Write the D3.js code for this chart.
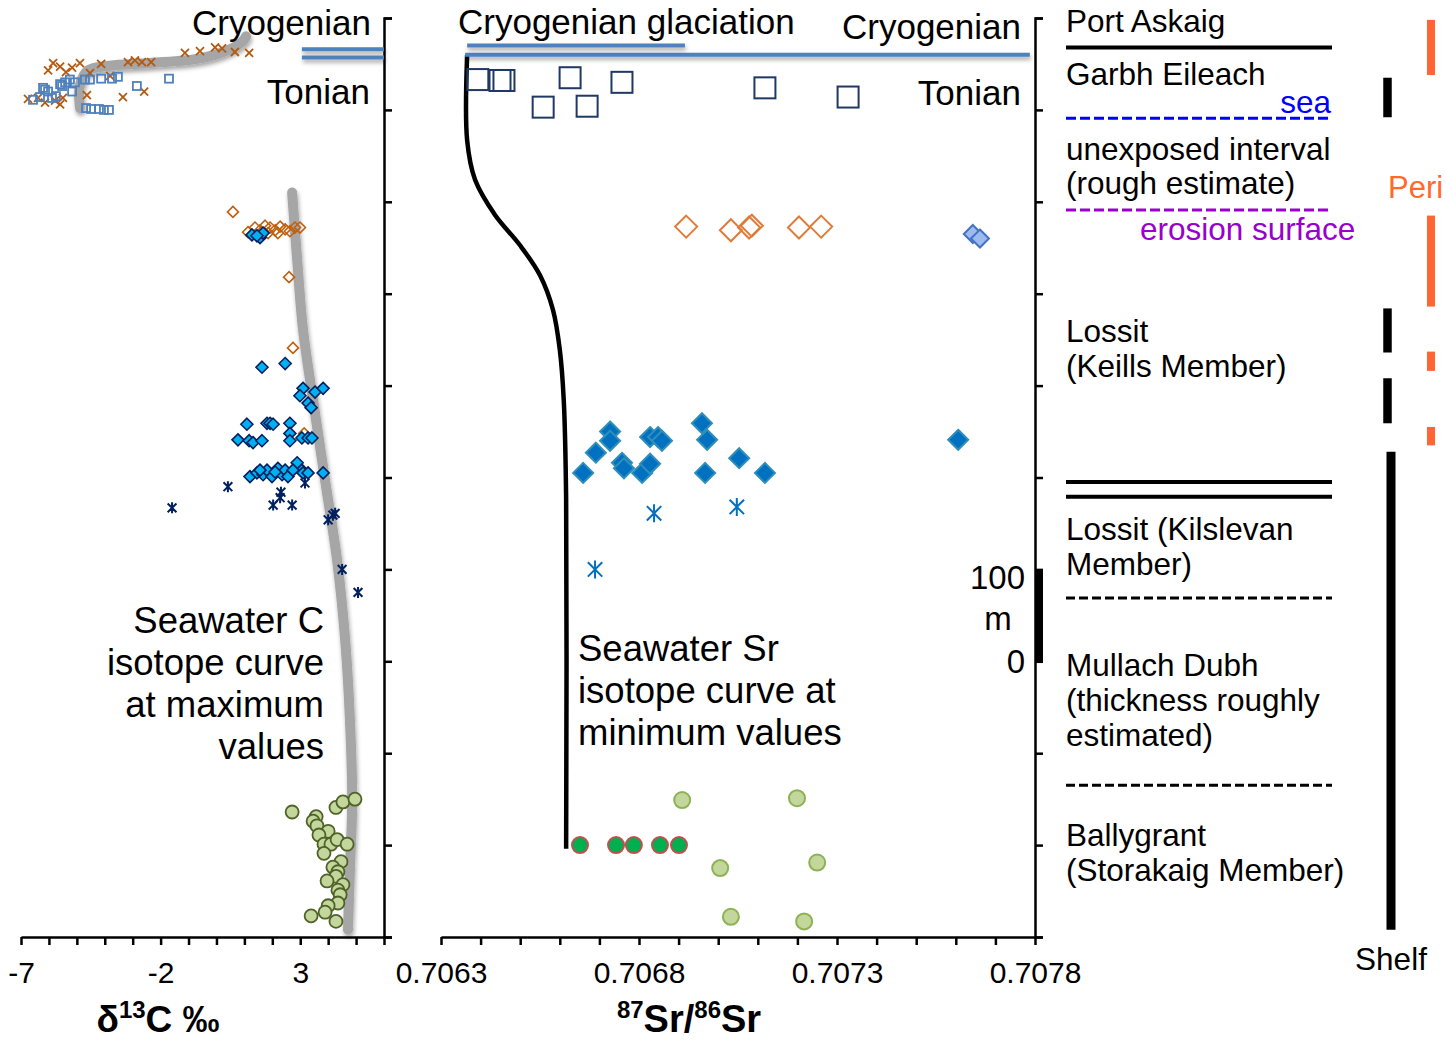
<!DOCTYPE html>
<html><head><meta charset="utf-8">
<script src="https://cdn.jsdelivr.net/npm/d3@7"></script>
<style>
html,body{margin:0;padding:0;background:#fff;overflow:hidden}
svg{display:block;font-family:"Liberation Sans",Arial,Helvetica,sans-serif}
</style></head><body>
<svg id="chart" width="1446" height="1044"></svg>
<script>
// ---------------- DATA (δ13C ‰ / 87Sr/86Sr vs stratigraphic height, m) ----------------
const c13Ticks = [-7, -2, 3];
const srTicks = [0.7063, 0.7068, 0.7073, 0.7078];

// δ13C panel series: [δ13C, height m]
const c13PortAskaig = [[-5.85,951],[-6.03,943],[-5.60,947],[-5.17,946],[-4.89,951],[-4.13,950],[-3.17,952],[-2.92,954],[-2.67,952],[-2.34,952],[-1.13,962],[-0.59,964],[-0.05,968],[0.20,967],[0.66,963],[1.17,962],[-6.75,912],[-5.78,910],[-5.50,913],[-4.64,916],[-3.35,914],[-2.59,920],[-6.14,908],[-5.60,906],[-6.39,913],[-5.39,941],[-4.53,940],[-3.81,937]];
const c13Garbh = [[-6.57,911],[-6.32,914],[-6.21,924],[-6.03,920],[-5.89,913],[-5.60,928],[-5.42,930],[-5.25,933],[-5.07,930],[-4.71,933],[-4.53,933],[-4.13,934],[-3.74,934],[-3.53,936],[-2.85,926],[-1.70,934],[-4.67,902],[-4.49,901],[-4.21,901],[-4.03,900],[-3.85,900],[-6.14,922],[-5.75,915],[-5.17,920],[-5.53,926]];
const c13KeillsOpen = [[0.59,789],[2.60,718],[2.74,641],[3.14,548],[1.13,767],[1.38,772],[1.56,769],[1.74,774],[1.92,772],[2.10,769],[2.28,773],[2.46,770],[2.63,768],[2.81,772],[2.99,772],[1.85,766],[2.20,766]];
const c13KeillsFilled = [[1.27,764],[1.56,761],[1.67,766],[1.45,763],[1.63,620],[2.46,624],[3.10,597],[2.99,589],[3.53,593],[3.82,597],[3.28,581],[3.39,576],[1.09,558],[1.81,559],[1.92,559],[2.03,558],[2.63,559],[0.77,541],[1.17,540],[1.31,538],[1.63,540],[2.63,548],[2.63,540],[3.06,543],[3.28,543],[3.42,543],[1.20,501],[1.45,505],[1.67,503],[1.81,508],[1.99,501],[2.20,510],[2.35,503],[2.46,508],[2.56,501],[2.89,516],[3.06,508],[3.10,505],[3.28,505],[3.82,505],[1.56,508],[2.74,508],[2.10,506]];
const c13Kilslevan = [[-1.59,467],[0.41,490],[2.31,484],[2.28,478],[2.03,470],[2.71,470],[3.17,494],[4.00,454],[4.17,459],[4.25,461],[4.50,400],[5.07,375]];
const c13Ballygrant = [[2.71,136],[4.28,141],[4.53,147],[4.96,150],[3.57,131],[3.46,126],[3.60,121],[4.00,115],[3.67,111],[3.85,101],[4.10,101],[4.32,106],[4.68,101],[3.85,91],[4.46,82],[4.17,76],[4.35,71],[4.28,66],[3.96,61],[4.53,57],[4.35,51],[4.43,46],[4.35,37],[4.00,34],[3.89,27],[3.39,23],[4.28,17]];

// seawater curves (annotation lines)
const seawaterCCurve = [[2.71,810],[2.89,737],[3.10,661],[3.46,584],[3.89,497],[4.32,410],[4.61,323],[4.78,236],[4.86,149],[4.78,73],[4.71,8]];
const seawaterCHook = [[-4.89,902],[-4.89,927],[-4.60,943],[-3.81,948],[-2.38,951],[-0.59,956],[0.41,965],[0.92,974],[1.06,980]];
const seawaterSrCurve = [[0.706366,960],[0.706366,867],[0.706386,824],[0.706436,786],[0.706499,753],[0.706550,720],[0.706583,682],[0.706600,639],[0.706610,584],[0.706616,476],[0.706616,96]];

// 87Sr/86Sr panel series: [ratio, height m]
const srGarbh = [[0.706393,933],[0.706449,932],[0.706459,932],[0.706558,903],[0.706626,935],[0.706669,904],[0.706757,930],[0.707118,924],[0.707328,914]];
const srKeillsOpen = [[0.706919,773],[0.707032,769],[0.707078,772],[0.707085,774],[0.707204,772],[0.707260,773]];
const srKeillsLight = [[0.707643,765],[0.707661,760]];
const srKeillsFilled = [[0.706659,505],[0.706691,527],[0.706727,550],[0.706727,540],[0.706757,516],[0.706762,510],[0.706808,505],[0.706828,515],[0.706828,544],[0.706848,544],[0.706858,540],[0.706959,559],[0.706972,541],[0.706967,505],[0.707053,521],[0.707118,505],[0.707606,541]];
const srKilslevan = [[0.706838,461],[0.707047,468],[0.706689,400]];
const srBallygrantLight = [[0.706909,149],[0.707199,151],[0.707005,75],[0.707250,81],[0.707032,22],[0.707217,17]];
const srBallygrantDark = [[0.706651,100],[0.706742,100],[0.706787,100],[0.706853,100],[0.706901,100]];

// period boundaries (blue lines): [x0, x1, height]
const c13PeriodLines = [[3.06,6,966],[3.06,6,957]];
const srPeriodLines = [[0.706361,0.707787,960]];
const srGlaciationLine = [[0.706366,0.706916,970]];

// stratigraphic column
const formationNames = ["Port Askaig","Garbh Eileach","unexposed interval","(rough estimate)","Lossit","(Keills Member)","Lossit (Kilslevan","Member)","Mullach Dubh","(thickness roughly","estimated)","Ballygrant","(Storakaig Member)"];
const boundaries = [[968,"solid"],[891,"sea"],[791,"erosion"],[495,"solid"],[479,"solid"],[369,"dash"],[165,"dash"]];
const peritidalBars = [[938,998],[686,785],[616,637],[535,555]];
const shelfBars = [[892,935],[636,684],[559,608]];
const shelfLong = [[8,528]];
const scaleBar = [[300,400]];

// ---------------- DRAWING ----------------
const svg = d3.select("#chart");
const defs = svg.append("defs");
defs.append("filter").attr("id","sh").attr("filterUnits","userSpaceOnUse")
  .attr("x",0).attr("y",0).attr("width",1446).attr("height",1044)
  .append("feDropShadow").attr("dx",1).attr("dy",3).attr("stdDeviation",2)
  .attr("flood-color","#000").attr("flood-opacity",0.35);

const yH = d3.scaleLinear().domain([0,1000]).range([937,18]);
const xC = d3.scaleLinear().domain([-7,6]).range([21,384]);
const xSr = d3.scaleLinear().domain([0.7063,0.7078]).range([441,1035]);

function text(x, y, str, size, anchor, fill, weight) {
  return svg.append("text").attr("x",x).attr("y",y).attr("font-size",size)
    .attr("text-anchor",anchor||"start").attr("fill",fill||"#000")
    .attr("font-weight",weight||"normal").text(str);
}

// axes
function styleAxis(g){
  g.selectAll("path,line").attr("stroke","#000").attr("stroke-width",2.5);
  g.selectAll("text").attr("font-size",30).attr("fill","#000").attr("font-family",'"Liberation Sans",Arial,sans-serif');
}
svg.append("g").attr("transform","translate(0,937)")
  .call(d3.axisBottom(xC).tickValues(d3.range(-7,7,1)).tickSize(8).tickSizeOuter(0).tickPadding(17)
    .tickFormat(d => c13Ticks.includes(d) ? String(d) : ""))
  .call(styleAxis);
const srMinor = d3.range(16).map(i => +(0.7063 + i*0.0001).toFixed(4));
svg.append("g").attr("transform","translate(0,937)")
  .call(d3.axisBottom(xSr).tickValues(srMinor).tickSize(8).tickSizeOuter(0).tickPadding(17)
    .tickFormat(d => srTicks.includes(d) ? d.toFixed(4) : ""))
  .call(styleAxis);
[384,1035].forEach(x => {
  svg.append("g").attr("transform",`translate(${x},0)`)
    .call(d3.axisRight(yH).tickValues(d3.range(0,1001,100)).tickSize(8).tickSizeOuter(8).tickFormat(""))
    .call(styleAxis);
});

// scale bar
svg.selectAll(".sbar").data(scaleBar).join("line")
  .attr("x1",1039).attr("x2",1039).attr("y1",d=>yH(d[0])).attr("y2",d=>yH(d[1]))
  .attr("stroke","#000").attr("stroke-width",8);

// curves
const lineC = d3.line().x(d=>xC(d[0])).y(d=>yH(d[1])).curve(d3.curveCatmullRom);
const lineSr = d3.line().x(d=>xSr(d[0])).y(d=>yH(d[1])).curve(d3.curveCatmullRom);
[seawaterCCurve, seawaterCHook].forEach(c => {
  svg.append("path").attr("d",lineC(c)).attr("fill","none").attr("stroke","#a6a6a6")
    .attr("stroke-width",10).attr("stroke-linecap","round").attr("stroke-linejoin","round").attr("filter","url(#sh)");
});
svg.append("path").attr("d",lineSr(seawaterSrCurve)).attr("fill","none").attr("stroke","#000").attr("stroke-width",4.5);

// period lines
c13PeriodLines.forEach(d => svg.append("line").attr("x1",xC(d[0])).attr("x2",xC(d[1])).attr("y1",yH(d[2])).attr("y2",yH(d[2]))
  .attr("stroke","#4f81bd").attr("stroke-width",4).attr("filter","url(#sh)"));
srPeriodLines.concat(srGlaciationLine).forEach(d => svg.append("line").attr("x1",xSr(d[0])).attr("x2",xSr(d[1])).attr("y1",yH(d[2])).attr("y2",yH(d[2]))
  .attr("stroke","#4f81bd").attr("stroke-width",4).attr("filter","url(#sh)"));

// markers
function pts(data, xs, shape, r, fill, stroke, sw){
  const g = svg.append("g");
  data.forEach(d => {
    const x = xs(d[0]), y = yH(d[1]);
    let p;
    if (shape==="circle") p = g.append("circle").attr("cx",x).attr("cy",y).attr("r",r);
    else if (shape==="square") p = g.append("rect").attr("x",x-r).attr("y",y-r).attr("width",2*r).attr("height",2*r);
    else if (shape==="diamond") p = g.append("path").attr("d",`M${x},${y-r}L${x+r},${y}L${x},${y+r}L${x-r},${y}Z`);
    else if (shape==="cross") p = g.append("path").attr("d",`M${x-r},${y-r}L${x+r},${y+r}M${x-r},${y+r}L${x+r},${y-r}`);
    else if (shape==="star") p = g.append("path").attr("d",`M${x-r*0.8},${y-r*0.8}L${x+r*0.8},${y+r*0.8}M${x-r*0.8},${y+r*0.8}L${x+r*0.8},${y-r*0.8}M${x},${y-r}L${x},${y+r}`);
    p.attr("fill",fill).attr("stroke",stroke).attr("stroke-width",sw);
  });
}
pts(c13PortAskaig, xC, "cross", 4, "none", "#b35a10", 1.8);
pts(c13Garbh, xC, "square", 4, "none", "#4f81bd", 1.8);
pts(c13KeillsOpen, xC, "diamond", 5.5, "none", "#c0600f", 1.6);
pts(c13KeillsFilled, xC, "diamond", 6, "#00b0f0", "#002060", 1.6);
pts(c13Kilslevan, xC, "star", 5.5, "none", "#002060", 2);
pts(c13Ballygrant, xC, "circle", 6.5, "#c3d69b", "#4f6228", 1.8);

pts(srGarbh, xSr, "square", 10.5, "none", "#203864", 2);
pts(srKeillsOpen, xSr, "diamond", 11, "none", "#e07b39", 2);
pts(srKeillsLight, xSr, "diamond", 9, "#9dbbee", "#4472c4", 2);
pts(srKeillsFilled, xSr, "diamond", 10, "#0070c0", "#2f8fb8", 2);
pts(srKilslevan, xSr, "star", 9, "none", "#0070c0", 2);
pts(srBallygrantLight, xSr, "circle", 8, "#c3d69b", "#8db255", 2);
pts(srBallygrantDark, xSr, "circle", 8, "#00b050", "#c0504d", 2);

// panel texts
text(371,35,"Cryogenian",35,"end");
text(370,104,"Tonian",35,"end");
text(458,34,"Cryogenian glaciation",35,"start");
text(1021,39,"Cryogenian",35,"end");
text(1021,105,"Tonian",35,"end");
["Seawater C","isotope curve","at maximum","values"].forEach((s,i)=>text(324,633+i*42,s,36.5,"end"));
["Seawater Sr","isotope curve at","minimum values"].forEach((s,i)=>text(578,661+i*42,s,36.5,"start"));
text(1025,589,"100",33,"end");
text(998,630,"m",33,"middle");
text(1025,673,"0",33,"end");

// axis titles
const t1 = svg.append("text").attr("x",158).attr("y",1032).attr("text-anchor","middle").attr("font-size",37).attr("font-weight","bold");
t1.append("tspan").text("δ");
t1.append("tspan").attr("font-size",24).attr("dy",-14).text("13");
t1.append("tspan").attr("dy",14).text("C ‰");
const t2 = svg.append("text").attr("x",689).attr("y",1032).attr("text-anchor","middle").attr("font-size",38).attr("font-weight","bold");
t2.append("tspan").attr("font-size",24).attr("dy",-14).text("87");
t2.append("tspan").attr("dy",14).text("Sr/");
t2.append("tspan").attr("font-size",24).attr("dy",-14).text("86");
t2.append("tspan").attr("dy",14).text("Sr");

// stratigraphic column
boundaries.forEach(b => {
  const y = yH(b[0]);
  const l = svg.append("line").attr("x1",1066).attr("x2",1332).attr("y1",y).attr("y2",y).attr("stroke-width",b[1]==="solid"?4:3);
  if (b[1]==="solid") l.attr("stroke","#000");
  else if (b[1]==="sea") l.attr("stroke","#0000ff").attr("stroke-dasharray","10,4");
  else if (b[1]==="erosion") l.attr("stroke","#9900cc").attr("stroke-dasharray","10,4");
  else l.attr("stroke","#000").attr("stroke-dasharray","9,4");
});
const nameBaselines = [32,85,160,194,342,377,540,575,676,711,746,846,881];
formationNames.forEach((s,i) => text(1066,nameBaselines[i],s,31.5,"start"));
text(1331,113,"sea",31.5,"end","#0000ff");
text(1140,240,"erosion surface",31.5,"start","#9900cc");
text(1388,198,"Peri",31,"start","#ff6a2a");
text(1391,970,"Shelf",31.5,"middle");

svg.selectAll(".peri").data(peritidalBars).join("line")
  .attr("x1",1431).attr("x2",1431).attr("y1",d=>yH(d[1])).attr("y2",d=>yH(d[0]))
  .attr("stroke","#ff6633").attr("stroke-width",8);
svg.selectAll(".shelf").data(shelfBars).join("line")
  .attr("x1",1387.5).attr("x2",1387.5).attr("y1",d=>yH(d[1])).attr("y2",d=>yH(d[0]))
  .attr("stroke","#000").attr("stroke-width",8.5);
svg.selectAll(".shelfL").data(shelfLong).join("line")
  .attr("x1",1391).attr("x2",1391).attr("y1",d=>yH(d[1])).attr("y2",d=>yH(d[0]))
  .attr("stroke","#000").attr("stroke-width",9);
</script></body></html>
